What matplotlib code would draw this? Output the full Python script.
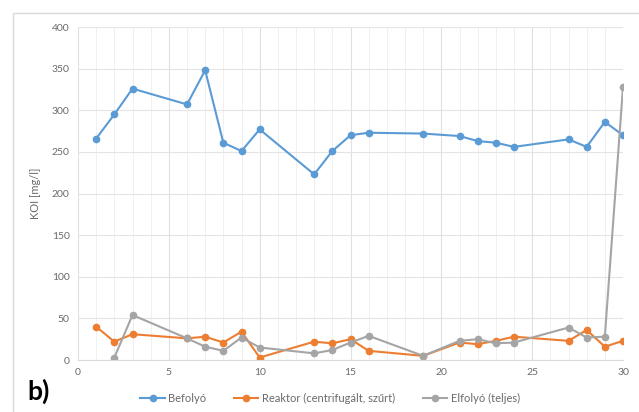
import matplotlib.pyplot as plt
from matplotlib.patches import Rectangle

plt.rcParams['font.family'] = ['Lato', 'DejaVu Sans']

days = [1, 2, 3, 6, 7, 8, 9, 10, 13, 14, 15, 16, 19, 21, 22, 23, 24, 27, 28, 29, 30]

befolyo = [266, 295, 326, 307, 348, 261, 251, 277, 223, 251, 270, 273, 272,
           269, 263, 261, 256, 265, 256, 286, 270]
reaktor = [40, 22, 31, 26, 28, 21, 34, 3, 22, 20, 25, 11, 5,
           21, 19, 23, 28, 23, 36, 16, 23]

elf_days = [2, 3, 6, 7, 8, 9, 10, 13, 14, 15, 16, 19, 21, 22, 23, 24, 27, 28, 29, 30]
elfolyo = [3, 54, 26, 16, 11, 27, 15, 8, 12, 21, 29, 5, 23, 25, 20, 21, 39, 27, 28, 328]

fig = plt.figure(figsize=(6.39, 4.12), dpi=100)
fig.patches.append(Rectangle((13 / 639, -0.1), 1.2, 1 - 13 / 412 + 0.1,
                             transform=fig.transFigure, fill=False,
                             edgecolor="#d9d9d9", linewidth=1))
ax = fig.add_axes([78 / 639, 52 / 412, 545 / 639, 333 / 412])

ax.plot(days, befolyo, color="#5b9bd5", linewidth=1.5, marker="o", markersize=4.5, label="Befolyó")
ax.plot(days, reaktor, color="#ed7d31", linewidth=1.5, marker="o", markersize=4.5,
        label="Reaktor (centrifugált, szűrt)")
ax.plot(elf_days, elfolyo, color="#a5a5a5", linewidth=1.5, marker="o", markersize=4.5,
        label="Elfolyó (teljes)")

ax.set_xlim(0, 30)
ax.set_ylim(0, 400)
ax.set_xticks(range(0, 31, 5))
ax.set_xticks(range(0, 31), minor=True)
ax.set_yticks(range(0, 401, 50))
ax.grid(which="major", axis="y", color="#e4e4e4", linewidth=0.8)
ax.grid(which="major", axis="x", color="#e0e0e0", linewidth=0.8)
ax.grid(which="minor", axis="x", color="#eeeeee", linewidth=0.6)
ax.set_axisbelow(True)
for s in ["top", "right", "left"]:
    ax.spines[s].set_visible(False)
ax.spines["bottom"].set_color("#d9d9d9")
ax.tick_params(which="both", length=0, labelsize=7.5, labelcolor="#6a6a6a", pad=6)

ax.set_ylabel("KOI [mg/l]", fontsize=8, color="#6a6a6a", labelpad=8)

fig.legend(loc="center", bbox_to_anchor=(330 / 639, 1 - 398 / 412), ncol=3, frameon=False,
           fontsize=8, labelcolor="#6a6a6a", handlelength=2.2, columnspacing=2.5,
           handletextpad=0.3)

fig.text(27 / 639, 1 - 391 / 412, "b)", fontsize=19, fontweight="bold", va="center", ha="left")

fig.savefig("out.png", dpi=100)
